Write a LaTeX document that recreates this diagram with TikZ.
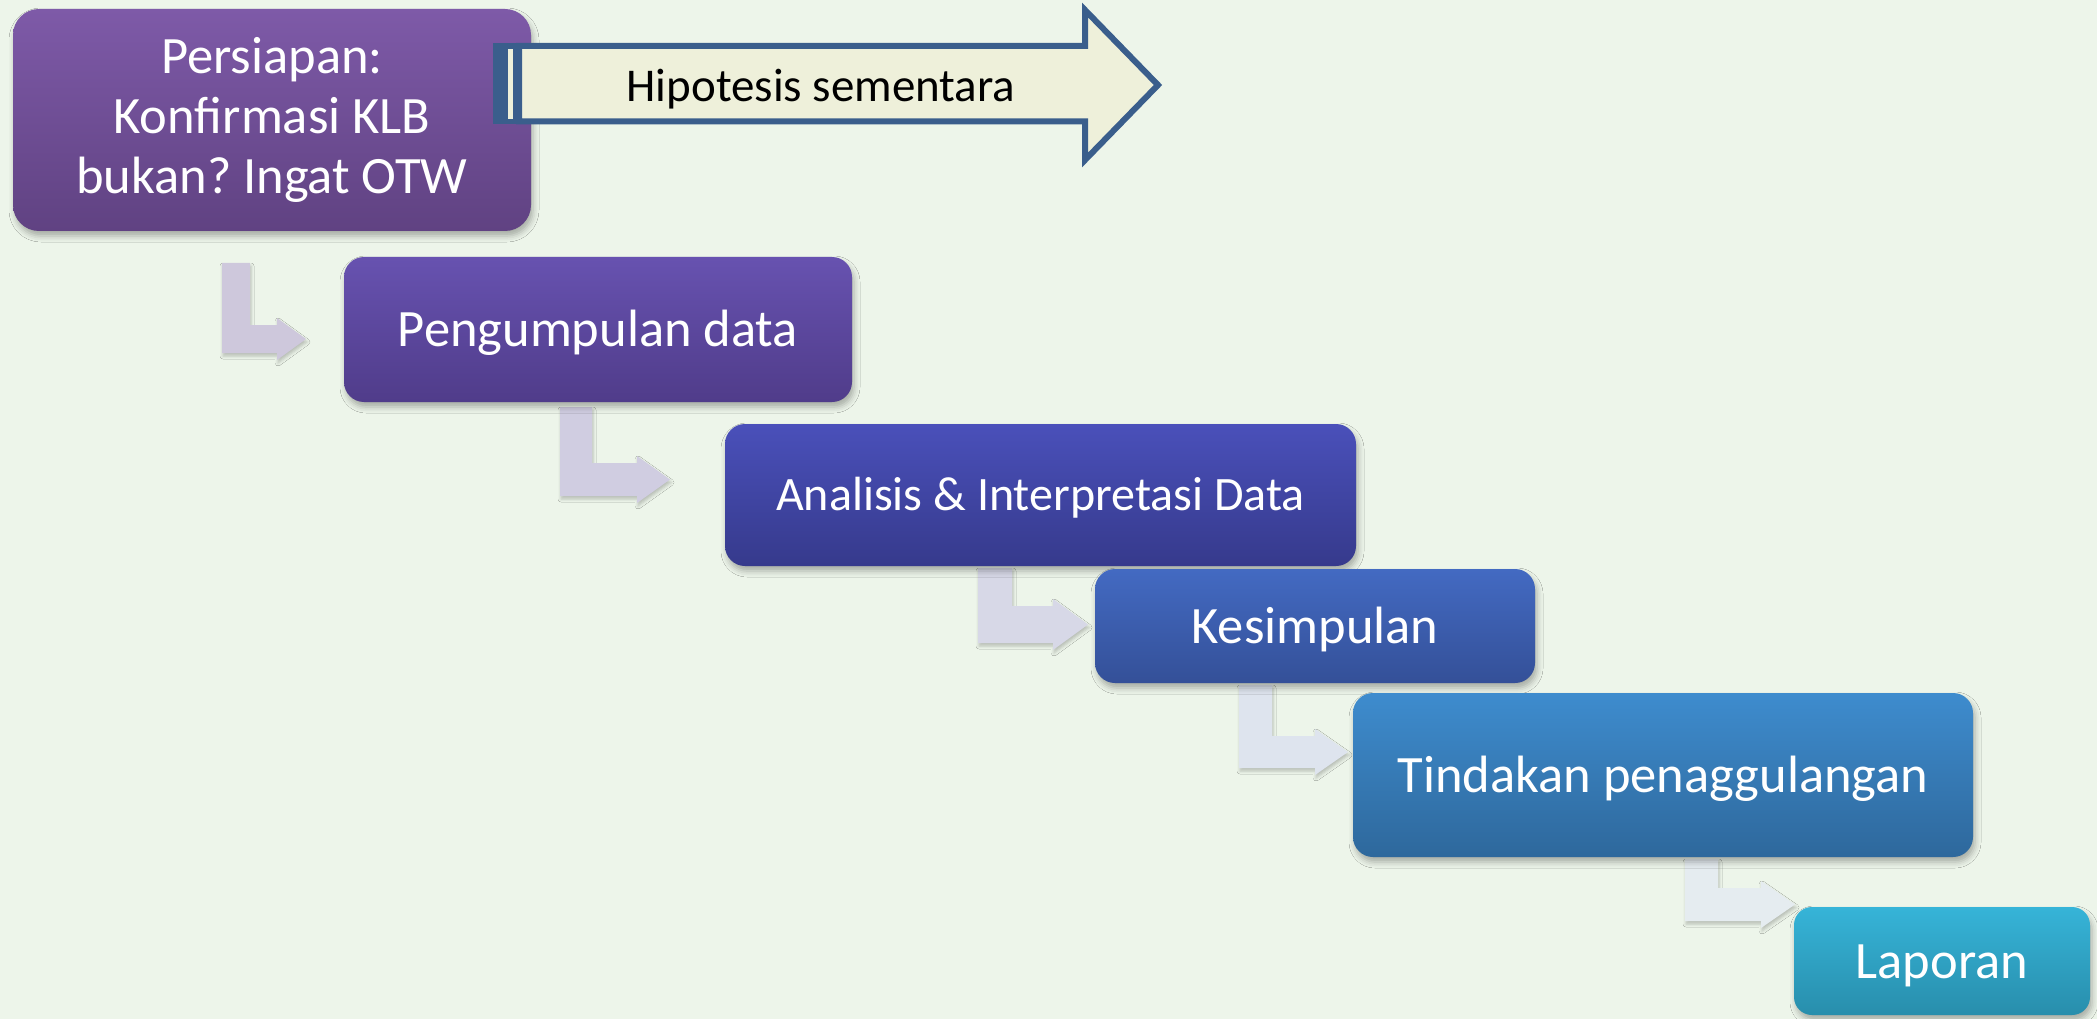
\documentclass[tikz,border=0pt]{standalone}
\usepackage{fontspec}
\setmainfont{Carlito}
\usetikzlibrary{shadows.blur}
\frenchspacing

\definecolor{bg}{RGB}{237,245,234}
\definecolor{hypfill}{RGB}{238,240,218}
\definecolor{hypline}{RGB}{58,94,140}
% stage gradients (top / bottom)
\definecolor{sAtop}{RGB}{126,90,168}  \definecolor{sAbot}{RGB}{96,66,130}
\definecolor{sBtop}{RGB}{103,82,176}  \definecolor{sBbot}{RGB}{80,60,138}
\definecolor{sCtop}{RGB}{74,80,186}   \definecolor{sCbot}{RGB}{54,58,140}
\definecolor{sDtop}{RGB}{67,106,194}  \definecolor{sDbot}{RGB}{52,80,152}
\definecolor{sEtop}{RGB}{62,140,206}  \definecolor{sEbot}{RGB}{46,104,156}
\definecolor{sFtop}{RGB}{54,180,216}  \definecolor{sFbot}{RGB}{40,142,172}
% bent arrow fills
\definecolor{aA}{RGB}{206,200,220}
\definecolor{aB}{RGB}{208,205,225}
\definecolor{aC}{RGB}{215,216,231}
\definecolor{aD}{RGB}{222,228,238}
\definecolor{aE}{RGB}{229,236,240}

\tikzset{
  stage/.style={rectangle, rounded corners=20pt, inner sep=0pt, text=white,
    font=\fontsize{52.5}{60}\selectfont,
    blur shadow={shadow xshift=2pt, shadow yshift=-5pt, shadow opacity=30, shadow blur radius=6pt}},
  oneline/.style={text height=34pt, text depth=0pt},
  bentshadow/.style={blur shadow={shadow xshift=1pt, shadow yshift=-3pt, shadow opacity=22, shadow blur radius=3pt}},
}

% #1 colour, #2/#3 left/right of the stem, #4 top of the stem,
% #5/#6 top/bottom of the shaft, #7 base of the head, #8 tip
\newcommand{\bentarrow}[8]{%
  \fill[#1, bentshadow] (#2,#4) -- (#3,#4) -- (#3,#5) -- (#7,#5) -- (#7,#5-7)
    -- (#8,{(#5+#6)/2}) -- (#7,#6+7) -- (#7,#6) -- (#2,#6) -- cycle;}

\begin{document}
\begin{tikzpicture}[x=1pt,y=-1pt]
  \fill[bg] (0,0) rectangle (2097,1019);
  \useasboundingbox (0,0) rectangle (2097,1019);

  % bent arrows between the stages
  \bentarrow{aA}{222}{250}{263}{325}{353}{277}{306}
  \bentarrow{aB}{560}{592}{407}{463}{496}{637}{670}
  \bentarrow{aC}{978}{1012}{568}{606}{643}{1053}{1088}
  \bentarrow{aD}{1239}{1272}{685}{736}{768}{1315}{1348}
  \bentarrow{aE}{1685}{1718}{859}{888}{921}{1761}{1795}

  % stages
  \node[stage, rounded corners=26pt, minimum width=518pt, minimum height=222pt,
        top color=sAtop, bottom color=sAbot, align=center]
        (prep) at (272,120) {Persiapan:\\Konfirmasi KLB\\bukan? Ingat OTW};
  \node[stage, oneline, minimum width=508pt, minimum height=145pt,
        top color=sBtop, bottom color=sBbot]
        (collect) at (598,329.5) {Pengumpulan data};
  \node[stage, minimum width=631pt, minimum height=142pt,
        top color=sCtop, bottom color=sCbot,
        font=\fontsize{48}{56}\selectfont, text height=31pt, text depth=0pt]
        (analysis) at (1040.5,495) {Analisis \& Interpretasi Data};
  \node[stage, oneline, minimum width=440pt, minimum height=114pt,
        top color=sDtop, bottom color=sDbot]
        (conclude) at (1315,626) {Kesimpulan};
  \node[stage, oneline, minimum width=620pt, minimum height=164pt,
        top color=sEtop, bottom color=sEbot]
        (action) at (1663,775) {Tindakan penaggulangan};
  \node[stage, oneline, rounded corners=18pt, minimum width=296pt, minimum height=108pt,
        top color=sFtop, bottom color=sFbot]
        (report) at (1942,961) {Laporan};

  % striped arrow with the working hypothesis
  \fill[hypline] (493,43) rectangle (522,124.5);
  \fill[hypfill] (508,49) rectangle (513,119);
  \draw[hypline, fill=hypfill, line width=6pt, line join=miter]
    (519,46) -- (1085,46) -- (1085,10) -- (1158,85) -- (1085,160)
    -- (1085,121.5) -- (519,121.5) -- cycle;
  \node[font=\fontsize{47}{56}\selectfont, anchor=base, text=black]
    (hyp) at (821,102) {Hipotesis sementara};
\end{tikzpicture}
\end{document}
